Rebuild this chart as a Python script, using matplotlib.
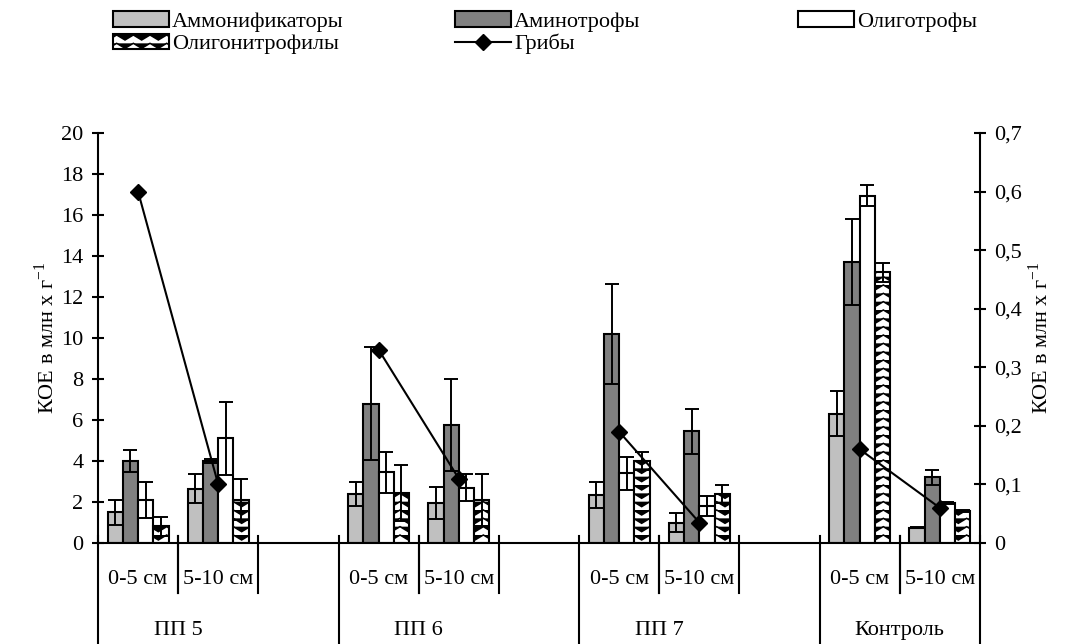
import warnings
import numpy as np
import matplotlib
matplotlib.use('Agg')
import matplotlib.pyplot as plt
from matplotlib import hatch as mhatch
from matplotlib.path import Path
from matplotlib.lines import Line2D

warnings.filterwarnings('ignore')

# --- data -----------------------------------------------------------------
depths = ['0-5 см', '5-10 см', '0-5 см', '5-10 см', '0-5 см', '5-10 см', '0-5 см', '5-10 см']
sites = ['ПП 5', 'ПП 6', 'ПП 7', 'Контроль']
pos = [0, 1, 3, 4, 6, 7, 9, 10]          # category slots (gap after each site)

amm = [1.5, 2.65, 2.4, 1.95, 2.35, 1.0, 6.3, 0.75]
amm_err = [0.6, 0.72, 0.6, 0.8, 0.64, 0.47, 1.1, 0.03]
amin = [4.0, 4.0, 6.8, 5.75, 10.2, 5.45, 13.7, 3.2]
amin_err = [0.55, 0.12, 2.75, 2.25, 2.45, 1.1, 2.1, 0.36]
olig = [2.1, 5.1, 3.45, 2.7, 3.4, 1.8, 16.95, 1.95]
olig_err = [0.9, 1.8, 1.0, 0.65, 0.8, 0.5, 0.5, 0.05]
oln = [0.82, 2.1, 2.45, 2.1, 4.0, 2.4, 13.2, 1.57]
oln_err = [0.47, 1.0, 1.36, 1.26, 0.44, 0.45, 0.45, 0.05]
fungi = [0.6, 0.1, 0.33, 0.11, 0.19, 0.035, 0.16, 0.06]

left_ticks = [0, 2, 4, 6, 8, 10, 12, 14, 16, 18, 20]
right_ticks = [0, 0.1, 0.2, 0.3, 0.4, 0.5, 0.6, 0.7]
right_labels = ['0', '0,1', '0,2', '0,3', '0,4', '0,5', '0,6', '0,7']


# chevron hatch like the Excel pattern
class ChevronHatch(mhatch.HatchPatternBase):
    def __init__(self, hatch, density):
        self.rows = int(hatch.count('v') * density)
        self.teeth = max(self.rows // 2, 1)
        self.num_vertices = self.rows * (2 * self.teeth + 1)

    def set_vertices_and_codes(self, vertices, codes):
        n = 2 * self.teeth + 1
        xs = np.linspace(0, 1, n)
        for r in range(self.rows):
            y0 = (r + 0.5) / self.rows
            ys = np.where(np.arange(n) % 2 == 0, y0 + 0.3 / self.rows, y0 - 0.3 / self.rows)
            vertices[r * n:(r + 1) * n, 0] = xs
            vertices[r * n:(r + 1) * n, 1] = ys
            codes[r * n] = Path.MOVETO
            codes[r * n + 1:(r + 1) * n] = Path.LINETO


mhatch._hatch_types.append(ChevronHatch)

plt.rcParams['font.family'] = ['Liberation Serif', 'DejaVu Serif']
plt.rcParams['mathtext.fontset'] = 'custom'
plt.rcParams['mathtext.rm'] = 'Liberation Serif'
plt.rcParams['hatch.linewidth'] = 1.1
plt.rcParams['hatch.color'] = '#404040'

FS = 16

fig = plt.figure(figsize=(10.73, 6.44), dpi=100)
ax = fig.add_axes([0.0913, 0.1568, 0.822, 0.6367])

w = 0.19
x = np.array(pos, dtype=float)
series = [
    (amm, amm_err, '#c0c0c0', None, 'Аммонификаторы'),
    (amin, amin_err, '#808080', None, 'Аминотрофы'),
    (olig, olig_err, 'white', None, 'Олиготрофы'),
    (oln, oln_err, 'white', 'vv', 'Олигонитрофилы'),
]
handles = []
for i, (vals, errs, col, hat, lab) in enumerate(series):
    xi = x + (i - 1.5) * w
    b = ax.bar(xi, vals, w, color=col, edgecolor='black', linewidth=1.5,
               hatch=hat, label=lab, zorder=2)
    ax.errorbar(xi, vals, yerr=errs, fmt='none', ecolor='black',
                elinewidth=1.4, capsize=5, capthick=1.4, zorder=3)
    handles.append(b)

ax.set_xlim(-0.5, 10.5)
ax.set_ylim(0, 20)
ax.set_yticks(left_ticks)
ax.set_xticks([])
for s in ['top', 'right']:
    ax.spines[s].set_visible(False)
for s in ['left', 'bottom']:
    ax.spines[s].set_linewidth(1.5)
ax.tick_params(axis='y', direction='inout', length=9, width=1.5, labelsize=FS, pad=6)
ax.set_ylabel('КОЕ в млн х г$^{\\mathregular{-1}}$', fontsize=16, labelpad=2)

ax2 = ax.twinx()
ax2.set_ylim(0, 0.7)
ax2.set_yticks(right_ticks)
ax2.set_yticklabels(right_labels)
for s in ['top', 'left', 'bottom']:
    ax2.spines[s].set_visible(False)
ax2.spines['right'].set_linewidth(1.5)
ax2.tick_params(axis='y', direction='inout', length=9, width=1.5, labelsize=FS, pad=6)
ax2.set_ylabel('КОЕ в млн х г$^{\\mathregular{-1}}$', fontsize=16, labelpad=4)

for k in range(len(sites)):
    ax2.plot(x[2 * k:2 * k + 2], fungi[2 * k:2 * k + 2], color='black', lw=1.5,
             marker='D', markersize=8, clip_on=False, zorder=5)

# category table under the axis
tr = ax.get_xaxis_transform()
group_edges = [-0.5, 2.5, 5.5, 8.5, 10.5]
for e in group_edges:
    ax.plot([e, e], [0.017, -0.3], color='black', lw=1.5, transform=tr, clip_on=False)
for p in pos:
    for e in (p - 0.5, p + 0.5):
        if e not in group_edges:
            ax.plot([e, e], [0.017, -0.122], color='black', lw=1.5, transform=tr, clip_on=False)
for p, d in zip(pos, depths):
    ax.text(p, -0.09, d, transform=tr, ha='center', va='center', fontsize=FS)
for k, s in enumerate(sites):
    ax.text((pos[2 * k] + pos[2 * k + 1]) / 2, -0.214, s, transform=tr,
            ha='center', va='center', fontsize=FS)

fungi_handle = Line2D([], [], color='black', lw=1.5, marker='D', markersize=8)
leg_kw = dict(loc='upper left', frameon=False, fontsize=FS, handlelength=2.5,
              handleheight=0.7, handletextpad=0.15, labelspacing=0.1,
              borderpad=0, borderaxespad=0)
fig.legend([handles[0], handles[3]], ['Аммонификаторы', 'Олигонитрофилы'],
           bbox_to_anchor=(113 / 1073, 1 - 11 / 644), **leg_kw)
fig.legend([handles[1], fungi_handle], ['Аминотрофы', 'Грибы'],
           bbox_to_anchor=(455 / 1073, 1 - 11 / 644), **leg_kw)
fig.legend([handles[2]], ['Олиготрофы'],
           bbox_to_anchor=(798 / 1073, 1 - 11 / 644), **leg_kw)

fig.savefig('out.png', dpi=100)
